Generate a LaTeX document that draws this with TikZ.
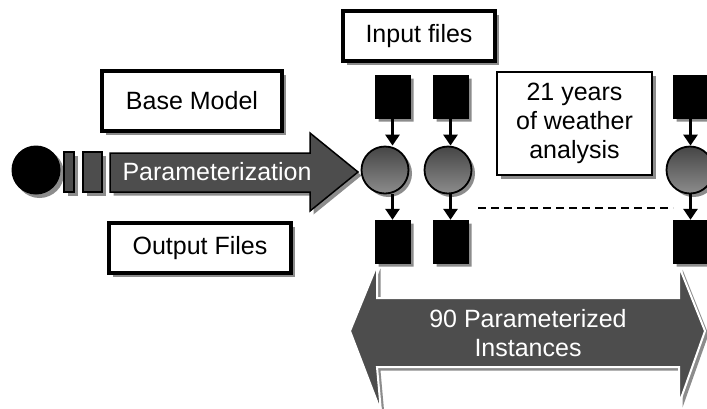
\documentclass[tikz,border=0pt]{standalone}
\usepackage{fontspec}
\setmainfont{Liberation Sans}
\usetikzlibrary{shapes.misc,shadows,arrows.meta}
\definecolor{darkfill}{HTML}{4D4D4D}
\definecolor{shadowgray}{HTML}{8C8C8C}
\tikzset{
  sh/.style={drop shadow={shadow xshift=3.5pt,shadow yshift=-3.5pt,fill=shadowgray,opacity=1}},
  txt/.style={font=\fontsize{25}{29}\selectfont,align=center},
  labelbox/.style={txt,draw=black,line width=3.6pt,fill=white,sh,inner sep=0pt},
  doc/.style={chamfered rectangle,chamfered rectangle corners=south east,
    chamfered rectangle xsep=4pt,chamfered rectangle ysep=4pt,
    fill=black,draw=black,minimum width=35pt,minimum height=43pt,inner sep=0pt,sh},
  proc/.style={circle,draw=black,line width=1.8pt,top color=darkfill!90!black,bottom color=shadowgray,
    minimum size=47pt,inner sep=0pt,sh},
  flow/.style={line width=3.4pt,-{Triangle[length=11pt,width=14pt]}},
}
\begin{document}
\begin{tikzpicture}[x=1pt,y=-1pt]
\useasboundingbox (0,0) rectangle (707,408);
\clip (0,0) rectangle (707,408);

% big double arrow
\fill[white] (0,0) rectangle (707,408);
\path[sh,fill=darkfill,draw=white,line width=2pt]
  (350,331) -- (377,265) -- (377,298) -- (679,298) -- (679,266) -- (705,331)
  -- (679,404) -- (679,367) -- (377,367) -- (381,412) -- cycle;
\node[txt,text=white] (inst) at (528,333) {90 Parameterized\\Instances};

% left part
\node[circle,fill=black,minimum size=49pt,inner sep=0pt,sh] (start) at (36,170) {};
\node[rectangle,fill=darkfill,draw=black,line width=1.5pt,minimum width=10pt,minimum height=40pt,inner sep=0pt,sh] (ra) at (69,172) {};
\node[rectangle,fill=darkfill,draw=black,line width=1.5pt,minimum width=19pt,minimum height=40pt,inner sep=0pt,sh] (rb) at (92.5,172) {};
\path[sh,fill=darkfill,draw=black,line width=1.5pt]
  (110,153) -- (310,153) -- (310,133) -- (358,172) -- (310,211) -- (310,192) -- (110,192) -- cycle;
\node[txt,text=white] (param) at (217,172) {Parameterization};

% label boxes
\node[labelbox,minimum width=180pt,minimum height=60pt] (base) at (192,101) {Base Model};
\node[labelbox,minimum width=182pt,minimum height=50pt] (out) at (200,248) {Output Files};
\node[labelbox,minimum width=152pt,minimum height=50pt] (inp) at (419,36) {Input files};
\node[labelbox,line width=2.8pt,minimum width=155pt,minimum height=103pt] (years) at (574.5,123.5) {21 years\\of weather\\analysis};

% columns
\node[doc] (t1) at (392.5,96.5) {};
\node[doc] (t2) at (450.5,96.5) {};
\node[doc] (t3) at (690.5,96.5) {};
\node[proc] (c1) at (385,170) {};
\node[proc] (c2) at (448,170) {};
\node[proc] (c3) at (690,170) {};
\node[doc] (b1) at (392.5,241.5) {};
\node[doc] (b2) at (450.5,241.5) {};
\node[doc] (b3) at (690.5,241.5) {};

\draw[flow] (t1.south) -- (t1.south |- c1.north);
\draw[flow] (t2.south) -- (t2.south |- c2.north);
\draw[flow] (t3.south) -- (t3.south |- c3.north);
\draw[flow] (b1.north |- c1.south) -- (b1.north);
\draw[flow] (b2.north |- c2.south) -- (b2.north);
\draw[flow] (b3.north |- c3.south) -- (b3.north);

\coordinate (d1) at (478,208);
\coordinate (d2) at (673,208);
\draw[line width=2.8pt,dash pattern=on 8pt off 5pt] (d1) -- (d2);
\end{tikzpicture}
\end{document}
